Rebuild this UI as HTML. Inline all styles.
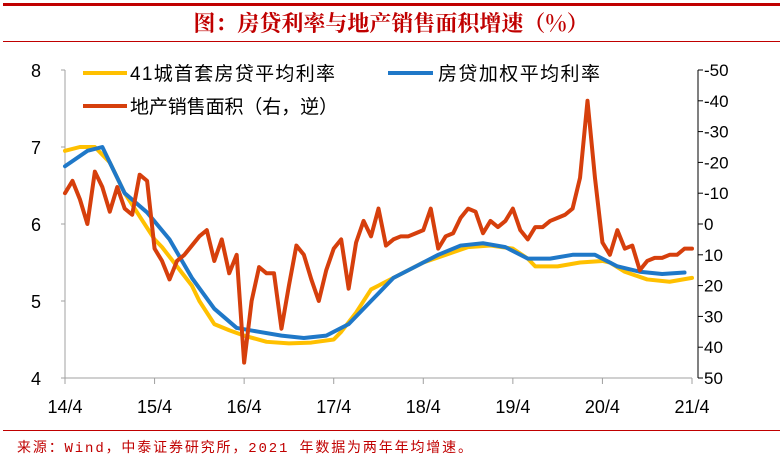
<!DOCTYPE html>
<html><head><meta charset="utf-8">
<style>
body{margin:0;background:#fff;width:783px;height:461px;overflow:hidden;font-family:"Liberation Sans","Noto Sans CJK SC",sans-serif;}
</style></head>
<body>
<svg width="783" height="461" xmlns="http://www.w3.org/2000/svg">
<rect x="3" y="3" width="777" height="3" fill="#c00000"/>
<text x="391" y="31" text-anchor="middle" font-size="22" font-weight="bold" fill="#c00000" font-family="'Noto Serif CJK SC',serif">图：房贷利率与地产销售面积增速（%）</text>
<rect x="3" y="41" width="777" height="1" fill="#c00000"/>
<g id="axes"></g>
<g id="series"></g>
<g font-size="19" fill="#000">
<line x1="83" y1="73" x2="127" y2="73" stroke="#ffc000" stroke-width="4"/>
<text x="130" y="80" textLength="205">41城首套房贷平均利率</text>
<line x1="388" y1="73" x2="433" y2="73" stroke="#1f78c8" stroke-width="4"/>
<text x="438" y="80" textLength="162">房贷加权平均利率</text>
<line x1="83" y1="106" x2="127" y2="106" stroke="#d63f0c" stroke-width="4"/>
<text x="130" y="113" textLength="208">地产销售面积（右，逆）</text>
</g>
<rect x="3" y="430" width="777" height="1" fill="#c00000"/>
<text x="17" y="452" font-size="14" fill="#c00000" textLength="455" font-family="Liberation Mono,'Noto Sans CJK SC',monospace">来源：Wind，中泰证券研究所，2021 年数据为两年年均增速。</text>
</svg>
<script>
const xLabels=["14/4","15/4","16/4","17/4","18/4","19/4","20/4","21/4"];
const leftTicks=[4,5,6,7,8];
const rightTicks=[-50,-40,-30,-20,-10,0,10,20,30,40,50];
const yellowMonths=[0,2,4,6,8,10,12,13,15,17,18,20,22,24,27,30,33,36,37,39,41,42,44,48,51,54,57,60,62,63,66,69,72,73,75,78,81,84];
const yellowVals=[6.95,7.0,7.0,6.8,6.4,6.1,5.8,5.7,5.45,5.2,5.0,4.7,4.62,4.55,4.47,4.45,4.46,4.5,4.6,4.85,5.15,5.2,5.3,5.5,5.6,5.7,5.72,5.68,5.55,5.45,5.45,5.5,5.52,5.5,5.38,5.28,5.25,5.3];
const blueMonths=[0,3,5,8,11,14,17,20,23,26,29,32,35,38,41,44,47,50,53,56,59,62,65,68,71,74,77,80,83];
const blueVals=[6.75,6.95,7.0,6.4,6.15,5.8,5.3,4.9,4.65,4.6,4.55,4.52,4.55,4.7,5.0,5.3,5.45,5.6,5.72,5.75,5.7,5.55,5.55,5.6,5.6,5.45,5.38,5.35,5.37];
const redVals=[-10,-14,-8,0,-17,-12,-4,-12,-5,-3,-16,-14,8,12,18,12,10,7,4,2,12,5,16,10,45,25,14,16,16,34,20,7,10,18,25,15,8,5,21,6,-1,4,-5,7,5,4,4,3,2,-5,8,4,3,-2,-5,-4,3,-1,1,-1,-5,2,5,1,1,-1,-2,-3,-5,-15,-40,-15,6,10,2,8,7,15,12,11,11,10,10,8,8];
const X0=65,X1=692,NM=84;
const xs=m=>X0+(X1-X0)*m/NM;
const yl=v=>378-(v-4)*77;
const yr=v=>378-(50-v)*3.08;
const NS="http://www.w3.org/2000/svg";
function mk(tag,attrs,parent){const e=document.createElementNS(NS,tag);for(const k in attrs)e.setAttribute(k,attrs[k]);parent.appendChild(e);return e;}
const ax=document.getElementById('axes');
let e=mk('line',{x1:X0,y1:70,x2:X0,y2:378,stroke:'#a0a0a0','stroke-width':1},ax);


e=mk('line',{x1:X0,y1:378,x2:X1,y2:378,stroke:'#a0a0a0','stroke-width':1},ax);


e=mk('line',{x1:698,y1:70,x2:698,y2:378,stroke:'#000','stroke-width':1},ax);


leftTicks.forEach(v=>{
 mk('line',{x1:X0-4,y1:yl(v),x2:X0,y2:yl(v),stroke:'#a0a0a0'},ax);
 const t=mk('text',{x:41,y:yl(v)+7,'font-size':18,'text-anchor':'end'},ax);t.textContent=v;
 
 
});
rightTicks.forEach(v=>{
 mk('line',{x1:698,y1:yr(v),x2:703,y2:yr(v),stroke:'#000'},ax);
 const t=mk('text',{x:704,y:yr(v)+6,'font-size':17},ax);t.textContent=v;
 
 
});
xLabels.forEach((l,i)=>{
 const x=xs(i*12);
 mk('line',{x1:x,y1:378,x2:x,y2:384,stroke:'#a0a0a0'},ax);
 const t=mk('text',{x:x,y:413,'font-size':18,'text-anchor':'middle'},ax);t.textContent=l;
 
 
});
const sg=document.getElementById('series');
function line(pts,color,name){
 const p=mk('polyline',{points:pts.map(q=>q.join(',')).join(' '),fill:'none',stroke:color,'stroke-width':4,'stroke-linejoin':'round','stroke-linecap':'round'},sg);
 
 
}
line(yellowMonths.map((m,i)=>[xs(m),yl(yellowVals[i])]),'#ffc000','line-41-city-first-home-rate');
line(blueMonths.map((m,i)=>[xs(m),yl(blueVals[i])]),'#1f78c8','line-weighted-mortgage-rate');
line(redVals.map((v,i)=>[xs(i),yr(v)]),'#d63f0c','line-sales-area-growth');
</script>
</body></html>
